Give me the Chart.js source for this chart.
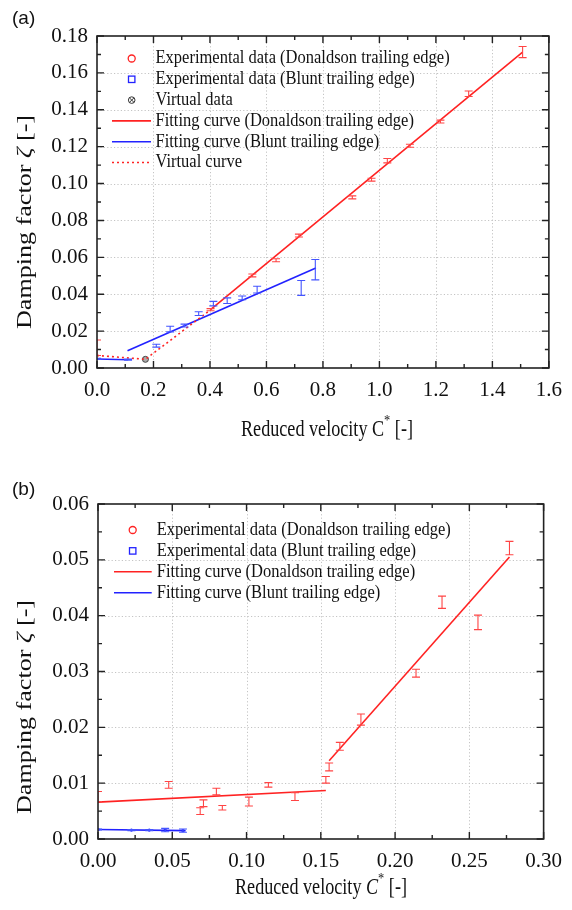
<!DOCTYPE html>
<html><head><meta charset="utf-8">
<script src="https://cdn.jsdelivr.net/npm/chart.js@4"></script>
<style>
html,body{margin:0;padding:0;background:#fff;width:572px;height:910px;overflow:hidden}
.box{position:absolute;left:0;width:572px}
#boxA{top:0;height:460px}
#boxB{top:460px;height:450px}
</style></head><body>
<div class="box" id="boxA"><canvas id="cA" width="572" height="460"></canvas></div>
<div class="box" id="boxB"><canvas id="cB" width="572" height="450"></canvas></div>
<script>
// ---------------- Panel (a) data ----------------
const aDonX   = [0.000, 0.402, 0.550, 0.634, 0.715, 0.904, 0.972, 1.028, 1.108, 1.216, 1.316, 1.507];
const aDonY   = [0.0110,0.0316,0.0502,0.0584,0.0718,0.0925,0.1021,0.1124,0.1205,0.1336,0.1487,0.1713];
const aDonErr = [0.0042,0.0006,0.0008,0.0008,0.0008,0.0008,0.0008,0.0012,0.0008,0.0008,0.0015,0.0030];
const aBluX   = [0.000, 0.110, 0.210, 0.259, 0.310, 0.360, 0.412, 0.461, 0.514, 0.567, 0.723, 0.773];
const aBluY   = [0.0049,0.0045,0.0121,0.0211,0.0230,0.0295,0.0349,0.0365,0.0380,0.0425,0.0434,0.0533];
const aBluErr = [0.0003,0.0003,0.0008,0.0015,0.0008,0.0010,0.0012,0.0015,0.0010,0.0018,0.0040,0.0055];
const aVirtX  = [0.1715];
const aVirtY  = [0.0047];
const aFitDonX  = [0.402, 1.507];
const aFitDonY  = [0.0316, 0.1713];
const aFitBlu1X = [0.000, 0.110];
const aFitBlu1Y = [0.0049, 0.0045];
const aFitBlu2X = [0.108, 0.775];
const aFitBlu2Y = [0.0094, 0.0542];
const aVirtCurveX = [0.000, 0.1715, 0.402];
const aVirtCurveY = [0.0068, 0.0047, 0.0316];
const aXTicks  = [0,0.2,0.4,0.6,0.8,1.0,1.2,1.4,1.6];
const aXLabels = ['0.0','0.2','0.4','0.6','0.8','1.0','1.2','1.4','1.6'];
const aYTicks  = [0,0.02,0.04,0.06,0.08,0.10,0.12,0.14,0.16,0.18];
const aYLabels = ['0.00','0.02','0.04','0.06','0.08','0.10','0.12','0.14','0.16','0.18'];
const aLegend  = ['Experimental data (Donaldson trailing edge)','Experimental data (Blunt trailing edge)','Virtual data',
                  'Fitting curve (Donaldson trailing edge)','Fitting curve (Blunt trailing edge)','Virtual curve'];

// ---------------- Panel (b) data ----------------
const bDonX   = [0.000, 0.0476,0.0688,0.0710,0.0797,0.0837,0.1016,0.1147,0.1326,0.1534,0.1556,0.1628,0.1770,0.2141,0.2316,0.2558,0.2770];
const bDonY   = [0.0076,0.0097,0.0050,0.0064,0.0085,0.0056,0.0067,0.0097,0.0076,0.0106,0.0129,0.0166,0.0214,0.0297,0.0424,0.0388,0.0521];
const bDonErr = [0.0009,0.0006,0.0006,0.0006,0.0006,0.0004,0.0008,0.0004,0.0007,0.0006,0.0007,0.0007,0.0010,0.0007,0.0011,0.0013,0.0012];
const bBluX   = [0.000, 0.0225,0.0345,0.0452,0.0572];
const bBluY   = [0.0017,0.0016,0.0016,0.0016,0.0015];
const bBluErr = [0.0001,0.0001,0.0001,0.0003,0.0003];
const bFitDon1X = [0.000, 0.1534];
const bFitDon1Y = [0.0066, 0.0087];
const bFitDon2X = [0.1556, 0.277];
const bFitDon2Y = [0.0140, 0.0505];
const bFitBluX  = [0.000, 0.059];
const bFitBluY  = [0.0017, 0.0015];
const bXTicks  = [0,0.05,0.10,0.15,0.20,0.25,0.30];
const bXLabels = ['0.00','0.05','0.10','0.15','0.20','0.25','0.30'];
const bYTicks  = [0,0.01,0.02,0.03,0.04,0.05,0.06];
const bYLabels = ['0.00','0.01','0.02','0.03','0.04','0.05','0.06'];
const bLegend  = ['Experimental data (Donaldson trailing edge)','Experimental data (Blunt trailing edge)',
                  'Fitting curve (Donaldson trailing edge)','Fitting curve (Blunt trailing edge)'];

// ---------------- styling ----------------
const RED = '#ff2222', BLUE = '#2222ff', ERR_RED = '#ff4444', ERR_BLUE = '#4455ff';
const SERIF = '"Liberation Serif", "Times New Roman", serif';
const SANS = '"Liberation Sans", Arial, sans-serif';

const pts = (xs, ys) => xs.map((x, i) => ({x: x, y: ys[i]}));
const mids = t => t.slice(0, -1).map((v, i) => (v + t[i + 1]) / 2);

function lineDs(xs, ys, color, dash) {
  return {type: 'scatter', data: pts(xs, ys), showLine: true, borderColor: color, backgroundColor: color,
          borderWidth: 1.6, borderDash: dash || [], pointRadius: 0, pointHoverRadius: 0, tension: 0};
}
function errDs(xs, ys, errs, color) {
  return {type: 'scatter', data: pts(xs, ys), errs: errs, errColor: color, pointRadius: 0, pointHoverRadius: 0,
          borderColor: color, backgroundColor: 'transparent'};
}

function richWidth(ctx, parts, size) {
  let w = 0;
  for (const p of parts) {
    ctx.font = (p.it ? 'italic ' : '') + Math.round(p.sup ? size * 0.7 : size) + 'px ' + SERIF;
    w += ctx.measureText(p.t).width;
  }
  return w;
}
function drawRich(ctx, parts, size, x, y) {
  let cx = x;
  for (const p of parts) {
    ctx.font = (p.it ? 'italic ' : '') + Math.round(p.sup ? size * 0.7 : size) + 'px ' + SERIF;
    ctx.fillText(p.t, cx, p.sup ? y - size * 0.42 : y);
    cx += ctx.measureText(p.t).width;
  }
}

function makePlugin(cfg) {
  return {
    id: 'custom' + cfg.name,
    beforeDatasetsDraw(chart) {
      const {ctx, chartArea: a, scales: {x, y}} = chart;
      ctx.save();
      ctx.strokeStyle = '#c4c4c4'; ctx.lineWidth = 1; ctx.setLineDash([1.2, 2.2]);
      cfg.xTicks.slice(1, -1).forEach(v => {
        const px = Math.round(x.getPixelForValue(v)) + 0.5;
        ctx.beginPath(); ctx.moveTo(px, a.top); ctx.lineTo(px, a.bottom); ctx.stroke();
      });
      cfg.yTicks.slice(1, -1).forEach(v => {
        const py = Math.round(y.getPixelForValue(v)) + 0.5;
        ctx.beginPath(); ctx.moveTo(a.left, py); ctx.lineTo(a.right, py); ctx.stroke();
      });
      ctx.restore();
    },
    afterDatasetsDraw(chart) {
      const {ctx, chartArea: a, scales: {x, y}} = chart;
      ctx.save();
      ctx.beginPath(); ctx.rect(a.left, a.top - 2, a.right - a.left, a.bottom - a.top + 2); ctx.clip();
      chart.data.datasets.forEach(ds => {
        if (!ds.errs) return;
        ctx.strokeStyle = ds.errColor; ctx.lineWidth = 1.1;
        ds.data.forEach((p, i) => {
          const px = x.getPixelForValue(p.x);
          const y1 = y.getPixelForValue(p.y + ds.errs[i]);
          const y2 = y.getPixelForValue(p.y - ds.errs[i]);
          ctx.beginPath();
          ctx.moveTo(px, y1); ctx.lineTo(px, y2);
          ctx.moveTo(px - 4, y1); ctx.lineTo(px + 4, y1);
          ctx.moveTo(px - 4, y2); ctx.lineTo(px + 4, y2);
          ctx.stroke();
        });
      });
      ctx.restore();
      ctx.save();
      ctx.strokeStyle = '#222'; ctx.lineWidth = 1.6;
      ctx.strokeRect(a.left, a.top, a.right - a.left, a.bottom - a.top);
      ctx.lineWidth = 1.4;
      const tick = (vals, len) => {
        vals.forEach(v => {
          const px = x.getPixelForValue(v);
          ctx.beginPath();
          ctx.moveTo(px, a.bottom); ctx.lineTo(px, a.bottom - len);
          ctx.moveTo(px, a.top); ctx.lineTo(px, a.top + len);
          ctx.stroke();
        });
      };
      const ytick = (vals, len) => {
        vals.forEach(v => {
          const py = y.getPixelForValue(v);
          ctx.beginPath();
          ctx.moveTo(a.left, py); ctx.lineTo(a.left + len, py);
          ctx.moveTo(a.right, py); ctx.lineTo(a.right - len, py);
          ctx.stroke();
        });
      };
      tick(cfg.xTicks, 7); tick(mids(cfg.xTicks), 4);
      ytick(cfg.yTicks, 7); ytick(mids(cfg.yTicks), 4);
      ctx.restore();
    },
    afterDraw(chart) {
      const {ctx} = chart;
      ctx.save();
      ctx.fillStyle = '#111'; ctx.textBaseline = 'middle';
      ctx.font = '19px ' + SANS; ctx.textAlign = 'left';
      ctx.fillText(cfg.panel, 12, cfg.panelY);
      // x title
      const xs = 19;
      const xw = richWidth(ctx, cfg.xTitle, xs);
      ctx.save();
      ctx.translate(cfg.xTitleX, cfg.xTitleY);
      ctx.scale(cfg.xTitleLen / xw, 1.2);
      drawRich(ctx, cfg.xTitle, xs, -xw / 2, 0);
      ctx.restore();
      // y title
      const ys = 21;
      const yw = richWidth(ctx, cfg.yTitle, ys);
      ctx.save();
      ctx.translate(cfg.yTitleX, cfg.yTitleY);
      ctx.rotate(-Math.PI / 2);
      ctx.scale(cfg.yTitleLen / yw, 1);
      drawRich(ctx, cfg.yTitle, ys, -yw / 2, 0);
      ctx.restore();
      // legend
      const fs = 16.5;
      cfg.legend.forEach((lab, i) => {
        const ly = cfg.legY + i * cfg.legStep;
        const k = cfg.legKinds[i];
        ctx.save();
        ctx.lineWidth = 1.3;
        if (k === 'circle') {
          ctx.strokeStyle = RED; ctx.beginPath(); ctx.arc(cfg.legMark, ly, 3.5, 0, Math.PI * 2); ctx.stroke();
        } else if (k === 'square') {
          ctx.strokeStyle = BLUE; ctx.strokeRect(cfg.legMark - 3.2, ly - 3.2, 6.4, 6.4);
        } else if (k === 'virt') {
          ctx.strokeStyle = '#333'; ctx.lineWidth = 1; ctx.beginPath(); ctx.arc(cfg.legMark, ly, 3.3, 0, Math.PI * 2); ctx.stroke();
          ctx.beginPath(); ctx.moveTo(cfg.legMark - 2.3, ly - 2.3); ctx.lineTo(cfg.legMark + 2.3, ly + 2.3);
          ctx.moveTo(cfg.legMark + 2.3, ly - 2.3); ctx.lineTo(cfg.legMark - 2.3, ly + 2.3); ctx.stroke();
        } else {
          ctx.strokeStyle = k === 'blue' ? BLUE : RED; ctx.lineWidth = 1.6;
          if (k === 'dot') ctx.setLineDash([2, 3]);
          ctx.beginPath(); ctx.moveTo(cfg.legL0, ly); ctx.lineTo(cfg.legL1, ly); ctx.stroke();
        }
        ctx.restore();
        ctx.save();
        ctx.translate(cfg.legText, ly);
        ctx.scale(1, 1.12);
        ctx.font = fs + 'px ' + SERIF; ctx.fillStyle = '#111'; ctx.textBaseline = 'middle';
        ctx.fillText(lab, 0, 0);
        ctx.restore();
      });
      ctx.restore();
    }
  };
}

function scalesFor(xMin, xMax, yMin, yMax, xT, xL, yT, yL, yW, xH) {
  return {
    x: {type: 'linear', min: xMin, max: xMax,
        afterBuildTicks: s => { s.ticks = xT.map(v => ({value: v})); },
        afterFit: s => { s.height = xH; },
        grid: {display: false, drawTicks: false}, border: {display: false},
        ticks: {padding: 10, color: '#111', font: {family: SERIF, size: 21}, maxRotation: 0, autoSkip: false,
                callback: (v, i) => xL[i]}},
    y: {type: 'linear', min: yMin, max: yMax,
        afterBuildTicks: s => { s.ticks = yT.map(v => ({value: v})); },
        afterFit: s => { s.width = yW; },
        grid: {display: false, drawTicks: false}, border: {display: false},
        ticks: {padding: 9, color: '#111', font: {family: SERIF, size: 21}, autoSkip: false,
                callback: (v, i) => yL[i]}}
  };
}

const commonOpts = {responsive: false, animation: false, events: [],
  plugins: {legend: {display: false}, tooltip: {enabled: false}, title: {display: false}}};

new Chart(document.getElementById('cA'), {
  type: 'scatter',
  data: {datasets: [
    lineDs(aVirtCurveX, aVirtCurveY, RED, [2, 3]),
    lineDs(aFitBlu1X, aFitBlu1Y, BLUE),
    lineDs(aFitBlu2X, aFitBlu2Y, BLUE),
    lineDs(aFitDonX, aFitDonY, RED),
    errDs(aDonX, aDonY, aDonErr, ERR_RED),
    errDs(aBluX, aBluY, aBluErr, ERR_BLUE),
    {type: 'scatter', data: pts(aVirtX, aVirtY), pointStyle: 'circle', pointRadius: 3, borderColor: '#444', borderWidth: 1, backgroundColor: '#aaa'},
    {type: 'scatter', data: pts(aVirtX, aVirtY), pointStyle: 'crossRot', pointRadius: 2.6, borderColor: '#333', borderWidth: 1}
  ]},
  options: Object.assign({}, commonOpts, {
    layout: {padding: {top: 36, right: 14, left: 0, bottom: 0}},
    scales: scalesFor(0, 1.6, 0, 0.18, aXTicks, aXLabels, aYTicks, aYLabels, 97, 92)
  }),
  plugins: [makePlugin({name: 'A', panel: '(a)', panelY: 19, xTicks: aXTicks, yTicks: aYTicks,
    xTitle: [{t: 'Reduced velocity '}, {t: 'C'}, {t: '*', sup: true}, {t: ' [-]'}], xTitleX: 327, xTitleY: 430, xTitleLen: 172,
    yTitle: [{t: 'Damping factor '}, {t: 'ζ', it: true}, {t: ' [-]'}], yTitleX: 25, yTitleY: 222, yTitleLen: 214,
    legend: aLegend, legKinds: ['circle', 'square', 'virt', 'red', 'blue', 'dot'],
    legY: 58.5, legStep: 20.8, legMark: 131.7, legL0: 112, legL1: 151, legText: 155.5})]
});

new Chart(document.getElementById('cB'), {
  type: 'scatter',
  data: {datasets: [
    lineDs(bFitBluX, bFitBluY, BLUE),
    lineDs(bFitDon1X, bFitDon1Y, RED),
    lineDs(bFitDon2X, bFitDon2Y, RED),
    errDs(bDonX, bDonY, bDonErr, ERR_RED),
    errDs(bBluX, bBluY, bBluErr, ERR_BLUE),
    {type: 'scatter', data: pts(bBluX, bBluY), pointStyle: 'circle', pointRadius: 1.6, borderColor: BLUE, backgroundColor: BLUE, borderWidth: 0}
  ]},
  options: Object.assign({}, commonOpts, {
    layout: {padding: {top: 44, right: 16, left: 0, bottom: 0}},
    scales: scalesFor(0, 0.30, 0, 0.06, bXTicks, bXLabels, bYTicks, bYLabels, 98, 71)
  }),
  plugins: [makePlugin({name: 'B', panel: '(b)', panelY: 30, xTicks: bXTicks, yTicks: bYTicks,
    xTitle: [{t: 'Reduced velocity '}, {t: 'C', it: true}, {t: '*', sup: true}, {t: ' [-]'}], xTitleX: 321, xTitleY: 428, xTitleLen: 172,
    yTitle: [{t: 'Damping factor '}, {t: 'ζ', it: true}, {t: ' [-]'}], yTitleX: 25, yTitleY: 247, yTitleLen: 214,
    legend: bLegend, legKinds: ['circle', 'square', 'red', 'blue'],
    legY: 70, legStep: 20.9, legMark: 132.7, legL0: 114, legL1: 151.7, legText: 156.7})]
});
</script>
</body></html>
